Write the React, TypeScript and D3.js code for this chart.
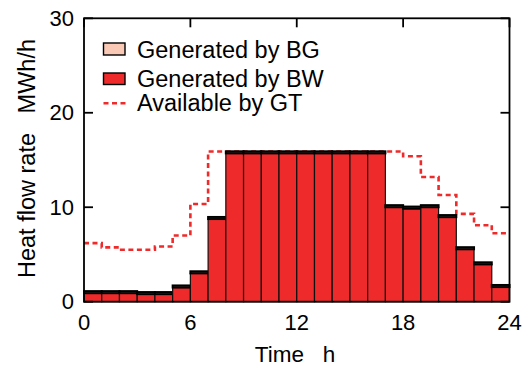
import React from "react";
import * as d3 from "d3";

const hours: number[] = Array.from({ length: 24 }, (_, i) => i);
const bwValues: number[] = [0.9, 0.9, 0.9, 0.8, 0.8, 1.5, 3.0, 8.75, 15.7, 15.7, 15.7, 15.7, 15.7, 15.7, 15.7, 15.7, 15.7, 10.0, 9.85, 10.0, 8.95, 5.55, 3.95, 1.55];
const bgValues: number[] = [0.22, 0.22, 0.22, 0.22, 0.22, 0.22, 0.22, 0.22, 0.22, 0.22, 0.22, 0.22, 0.22, 0.22, 0.22, 0.22, 0.22, 0.22, 0.22, 0.22, 0.22, 0.22, 0.22, 0.22];
const gtValues: number[] = [6.2, 5.75, 5.5, 5.5, 5.85, 7.0, 10.35, 15.9, 15.9, 15.9, 15.9, 15.9, 15.9, 15.9, 15.9, 15.9, 15.9, 15.9, 15.4, 13.2, 11.3, 9.3, 8.1, 7.25];
const xTicks: number[] = [0, 6, 12, 18, 24];
const yTicks: number[] = [0, 10, 20, 30];
const legendLabels: string[] = ["Generated by BG", "Generated by BW", "Available by GT"];

const W = 527;
const H = 367;
const left = 84;
const right = 509.5;
const top = 18.3;
const bottom = 301.7;
const RED = "#ee2a2a";
const PINK = "#f9c9b6";
const FONT = "'Liberation Sans', Arial, Helvetica, sans-serif";

export default function App() {
  const x = d3.scaleLinear().domain([0, 24]).range([left, right]);
  const y = d3.scaleLinear().domain([0, 30]).range([bottom, top]);

  const gtPts: [number, number][] = hours.map((h) => [h, gtValues[h]]);
  gtPts.push([24, gtValues[23]]);
  const line = d3
    .line<[number, number]>()
    .x((d) => x(d[0]))
    .y((d) => y(d[1]))
    .curve(d3.curveStepAfter);

  const tickLen = 9;

  return (
    <svg
      width={W}
      height={H}
      style={{ position: "fixed", left: 0, top: 0, display: "block", background: "#fff" }}
      fontFamily={FONT}
    >
      <rect x={0} y={0} width={W} height={H} fill="#fff" />
      <path d={line(gtPts) || ""} fill="none" stroke={RED} strokeWidth={2.6} strokeDasharray="5,3.5" />
      {hours.map((h) => (
        <g key={h}>
          <rect
            x={x(h)}
            y={y(bwValues[h])}
            width={x(h + 1) - x(h)}
            height={y(0) - y(bwValues[h])}
            fill={RED}
            stroke="#111"
            strokeWidth={1.2}
          />
          <rect
            x={x(h)}
            y={y(bwValues[h] + bgValues[h])}
            width={x(h + 1) - x(h)}
            height={y(bwValues[h]) - y(bwValues[h] + bgValues[h])}
            fill={PINK}
            stroke="#000"
            strokeWidth={2}
          />
        </g>
      ))}
      <rect x={left} y={top} width={right - left} height={bottom - top} fill="none" stroke="#000" strokeWidth={1.8} />
      {yTicks.map((t) => (
        <g key={"y" + t}>
          <line x1={left} x2={left + tickLen} y1={y(t)} y2={y(t)} stroke="#000" strokeWidth={1.8} />
          <line x1={right} x2={right - tickLen} y1={y(t)} y2={y(t)} stroke="#000" strokeWidth={1.8} />
          <text x={74} y={y(t)} textAnchor="end" dominantBaseline="central" fontSize={22} fill="#000">
            {t}
          </text>
        </g>
      ))}
      {xTicks.map((t) => (
        <g key={"x" + t}>
          <line x1={x(t)} x2={x(t)} y1={top} y2={top + tickLen} stroke="#000" strokeWidth={1.8} />
          <text x={x(t)} y={330} textAnchor="middle" fontSize={22} fill="#000">
            {t}
          </text>
        </g>
      ))}
      <text x={295} y={361.5} textAnchor="middle" fontSize={22.5} fill="#000" style={{ whiteSpace: "pre" }}>
        {"Time   h"}
      </text>
      <text
        transform={`translate(35,158.5) rotate(-90)`}
        textAnchor="middle"
        fontSize={23.5}
        fill="#000"
        style={{ whiteSpace: "pre" }}
      >
        {"Heat flow rate   MWh/h"}
      </text>
      <g>
        <rect x={103.5} y={43} width={21.5} height={12} fill={PINK} stroke="#000" strokeWidth={1.4} />
        <text x={137} y={57.5} fontSize={23.5} fill="#000">{legendLabels[0]}</text>
        <rect x={103.5} y={73} width={21.5} height={11.5} fill={RED} stroke="#000" strokeWidth={1.4} />
        <text x={137} y={86.5} fontSize={23.5} fill="#000">{legendLabels[1]}</text>
        <line x1={103.5} x2={127} y1={103.3} y2={103.3} stroke={RED} strokeWidth={2.6} strokeDasharray="5,3.5" />
        <text x={137} y={111} fontSize={23.5} fill="#000">{legendLabels[2]}</text>
      </g>
    </svg>
  );
}
